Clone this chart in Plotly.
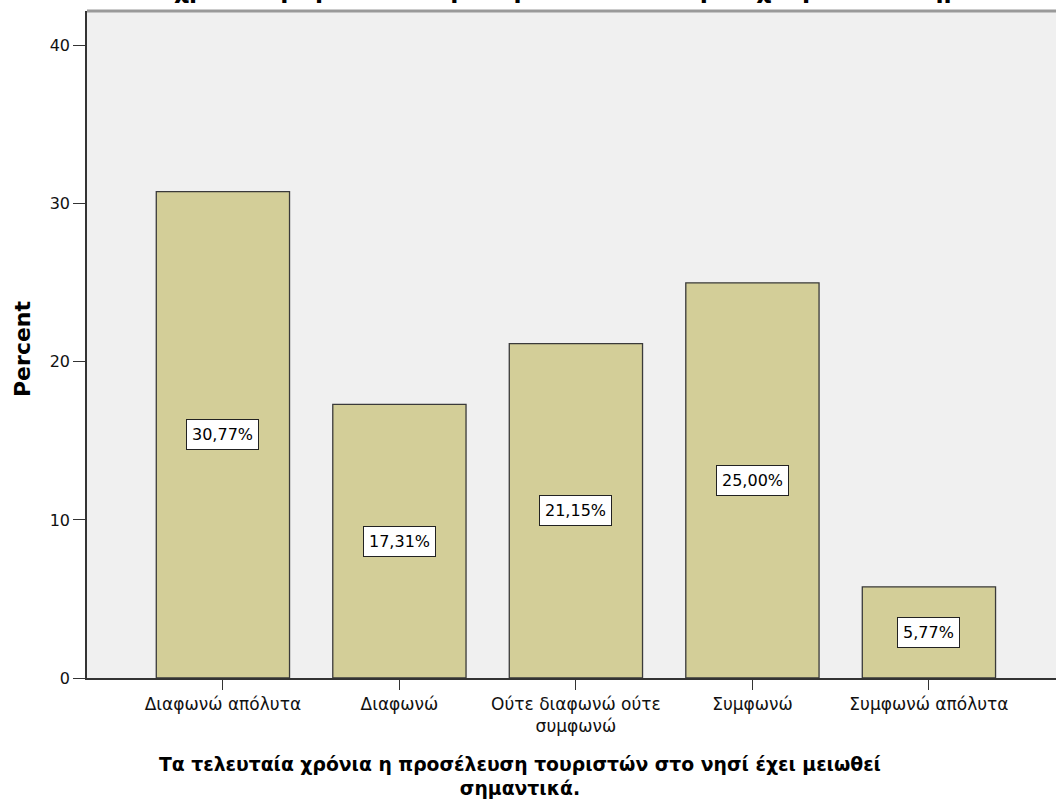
import plotly.graph_objects as go

categories = ["Διαφωνώ απόλυτα", "Διαφωνώ", "Ούτε διαφωνώ ούτε<br>συμφωνώ", "Συμφωνώ", "Συμφωνώ απόλυτα"]
percent = [30.77, 17.31, 21.15, 25.00, 5.77]
labels = ["30,77%", "17,31%", "21,15%", "25,00%", "5,77%"]
y_ticks = [0, 10, 20, 30, 40]

title_text = "Τα τελευταία χρόνια η προσέλευση τουριστών στο νησί έχει μειωθεί σημαντικά."
x_title = "Τα τελευταία χρόνια η προσέλευση τουριστών στο νησί έχει μειωθεί<br>σημαντικά."
y_title = "Percent"

FONT = "DejaVu Sans"
W, H = 1056, 800
ML, MR, MT, MB = 87, 0, 11, 122
PW, PH = W - ML - MR, H - MT - MB

xs = list(range(len(categories)))
fig = go.Figure()
fig.add_trace(go.Bar(
    x=xs, y=percent, width=0.755,
    marker=dict(color="#d3ce98", line=dict(color="#3a3a3a", width=1.3)),
    hoverinfo="skip",
))

for xi, v, t in zip(xs, percent, labels):
    fig.add_annotation(x=xi, y=v / 2, text=t, showarrow=False,
                       bgcolor="white", bordercolor="#222", borderwidth=1, borderpad=5,
                       font=dict(family=FONT, size=16, color="black"))

fig.update_layout(
    width=W, height=H,
    margin=dict(l=ML, r=MR, t=MT, b=MB),
    paper_bgcolor="white", plot_bgcolor="#f0f0f0",
    showlegend=False,
    font=dict(family=FONT, size=16, color="black"),
    xaxis=dict(
        tickmode="array", tickvals=xs, ticktext=categories,
        range=[-0.77, 4.72], showgrid=False, zeroline=False,
        showline=True, linecolor="#333", linewidth=1.5,
        ticks="outside", ticklen=10, tickcolor="#333", tickwidth=1.3,
        tickfont=dict(family=FONT, size=17, color="#111"),
    ),
    yaxis=dict(
        range=[0, 42.2], tickvals=y_ticks, showgrid=False, zeroline=False,
        showline=True, linecolor="#333", linewidth=1.5,
        ticks="outside", ticklen=12, tickcolor="#333", tickwidth=1.3,
        tickfont=dict(family=FONT, size=16, color="#111"),
    ),
)

# gray top border of plot area
fig.add_shape(type="line", xref="paper", yref="paper", x0=0, x1=1, y0=1, y1=1,
              line=dict(color="#9a9a9a", width=3))

# chart title (cut off at the top of the page, as in the reference)
fig.add_annotation(xref="paper", yref="paper", x=(528 - ML) / PW,
                   y=1 + (11 + 10) / PH, yanchor="middle",
                   text=title_text, showarrow=False,
                   font=dict(family=FONT, size=23.5, color="black", weight="bold"))

# x-axis title
fig.add_annotation(xref="paper", yref="paper", x=(520 - ML) / PW,
                   y=-(776 - 678) / PH, yanchor="middle",
                   text=x_title, showarrow=False, align="center",
                   font=dict(family=FONT, size=18.8, color="black", weight="bold"))

# y-axis title
fig.add_annotation(xref="paper", yref="paper", x=(22 - ML) / PW, xanchor="center",
                   y=(678 - 349) / PH, yanchor="middle", textangle=-90,
                   text=y_title, showarrow=False,
                   font=dict(family=FONT, size=22, color="black", weight="bold"))

fig.write_html("out.html", config={"displayModeBar": False},
               post_script="document.body.style.margin='0px';document.body.style.overflow='hidden';")
